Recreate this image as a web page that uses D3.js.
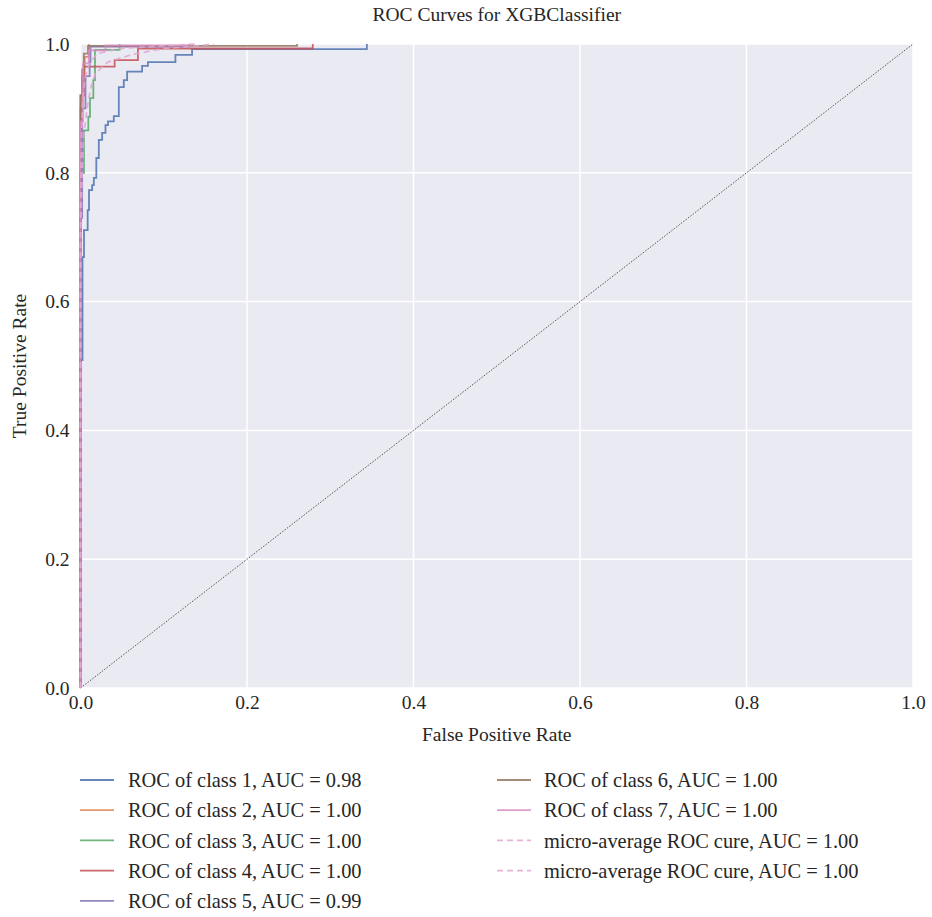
<!DOCTYPE html>
<html>
<head>
<meta charset="utf-8">
<script src="https://cdn.jsdelivr.net/npm/d3@7"></script>
<style>
  html, body { margin: 0; padding: 0; background: #ffffff; }
  svg { display: block; }
  text { font-family: "Liberation Serif", "DejaVu Serif", serif; fill: #262626; }
</style>
</head>
<body>
<svg id="chart" width="932" height="917"></svg>
<script>
// ---------------- DATA ----------------
const chartTitle = "ROC Curves for XGBClassifier";
const xLabel = "False Positive Rate";
const yLabel = "True Positive Rate";
const xTicks = [0.0, 0.2, 0.4, 0.6, 0.8, 1.0];
const yTicks = [0.0, 0.2, 0.4, 0.6, 0.8, 1.0];

const seriesNames = [
  "ROC of class 1, AUC = 0.98",
  "ROC of class 2, AUC = 1.00",
  "ROC of class 3, AUC = 1.00",
  "ROC of class 4, AUC = 1.00",
  "ROC of class 5, AUC = 0.99",
  "ROC of class 6, AUC = 1.00",
  "ROC of class 7, AUC = 1.00",
  "micro-average ROC cure, AUC = 1.00",
  "micro-average ROC cure, AUC = 1.00"
];

// [FPR, TPR] corner points (the part along TPR = 1 is hidden under the frame edge)
const class1 = [[0,0.023],[0,0.509],[0.0024,0.509],[0.0024,0.669],[0.0042,0.669],[0.0042,0.711],[0.0086,0.711],[0.0086,0.742],[0.0102,0.742],[0.0102,0.773],[0.014,0.773],[0.014,0.781],[0.016,0.781],[0.016,0.792],[0.019,0.792],[0.019,0.823],[0.022,0.823],[0.022,0.851],[0.026,0.851],[0.026,0.862],[0.030,0.862],[0.030,0.874],[0.033,0.874],[0.033,0.880],[0.040,0.880],[0.040,0.888],[0.046,0.888],[0.046,0.933],[0.052,0.933],[0.052,0.944],[0.056,0.944],[0.056,0.957],[0.074,0.957],[0.074,0.966],[0.081,0.966],[0.081,0.972],[0.114,0.972],[0.114,0.983],[0.134,0.983],[0.134,0.992],[0.344,0.992],[0.344,1]];
const class2 = [[0,0],[0,0.90],[0.002,0.90],[0.002,0.95],[0.005,0.95],[0.005,0.98],[0.010,0.98],[0.010,1]];
const class3 = [[0,0],[0,0.80],[0.0042,0.80],[0.0042,0.866],[0.0094,0.866],[0.0094,0.887],[0.0114,0.887],[0.0114,0.916],[0.0154,0.916],[0.0154,0.944],[0.0174,0.944],[0.0174,0.991],[0.047,0.991],[0.047,1]];
const class4 = [[0,0],[0,0.92],[0.004,0.92],[0.004,0.965],[0.041,0.965],[0.041,0.975],[0.069,0.975],[0.069,0.993],[0.279,0.993],[0.279,1]];
const class5 = [[0,0],[0,0.73],[0.002,0.73],[0.002,0.90],[0.006,0.90],[0.006,0.95],[0.011,0.95],[0.011,0.972],[0.012,0.972],[0.012,0.996],[0.13,0.996],[0.13,1]];
const class6 = [[0,0],[0,0.92],[0.002,0.92],[0.002,0.96],[0.004,0.96],[0.004,0.985],[0.009,0.985],[0.009,0.997],[0.26,0.997],[0.26,1]];
const class7 = [[0,0],[0,0.88],[0.003,0.88],[0.003,0.97],[0.010,0.97],[0.010,0.99],[0.03,0.99],[0.03,0.998],[0.13,0.998],[0.13,1]];
const micro1 = [[0,0],[0,0.70],[0.002,0.80],[0.004,0.86],[0.008,0.90],[0.012,0.93],[0.018,0.955],[0.033,0.972],[0.063,0.984],[0.10,0.993],[0.14,0.997],[0.16,1]];
const micro2 = [[0,0],[0,0.75],[0.001,0.85],[0.003,0.92],[0.006,0.95],[0.011,0.97],[0.02,0.985],[0.047,0.993],[0.10,0.997],[0.14,1]];
const diagonal = [[0,0],[1,1]];

const seriesData = [class1, class2, class3, class4, class5, class6, class7, micro1, micro2];
const seriesColors = ["#4C72B0", "#DD8452", "#55A868", "#C44E52", "#8172B3", "#937860", "#DA8BC3", "#E3A6D3", "#E3A6D3"];
const seriesDashed = [false, false, false, false, false, false, false, true, true];

// ---------------- LAYOUT ----------------
const svg = d3.select("#chart");
const x = d3.scaleLinear().domain([0, 1]).range([80.5, 913]);
const y = d3.scaleLinear().domain([0, 1]).range([688, 44]);

// background
svg.append("rect")
  .attr("x", x(0)).attr("y", y(1))
  .attr("width", x(1) - x(0)).attr("height", y(0) - y(1))
  .attr("fill", "#EAEAF2");

// grid
svg.append("g").selectAll("line").data(xTicks).join("line")
  .attr("x1", d => x(d)).attr("x2", d => x(d))
  .attr("y1", y(0)).attr("y2", y(1))
  .attr("stroke", "#ffffff").attr("stroke-width", 1.5);
svg.append("g").selectAll("line").data(yTicks).join("line")
  .attr("x1", x(0)).attr("x2", x(1))
  .attr("y1", d => y(d)).attr("y2", d => y(d))
  .attr("stroke", "#ffffff").attr("stroke-width", 1.5);

// axes (ticks hidden, labels only)
const xAxis = d3.axisBottom(x).tickValues(xTicks).tickFormat(d3.format(".1f")).tickSize(0).tickPadding(7);
const yAxis = d3.axisLeft(y).tickValues(yTicks).tickFormat(d3.format(".1f")).tickSize(0).tickPadding(11);
const gx = svg.append("g").attr("transform", `translate(0,${y(0)})`).call(xAxis);
const gy = svg.append("g").attr("transform", `translate(${x(0)},0)`).call(yAxis);
[gx, gy].forEach(g => {
  g.select(".domain").remove();
  g.selectAll("text").attr("font-family", "Liberation Serif, serif").attr("font-size", 19.5).attr("fill", "#262626");
});

// diagonal
const line = d3.line().x(d => x(d[0])).y(d => y(d[1]));
svg.append("path").datum(diagonal)
  .attr("d", line).attr("fill", "none")
  .attr("stroke", "#555").attr("stroke-width", 1)
  .attr("stroke-dasharray", "1.5,1.5");

// curves
seriesData.forEach((data, i) => {
  svg.append("path").datum(data)
    .attr("d", line).attr("fill", "none")
    .attr("stroke", seriesColors[i])
    .attr("stroke-width", 1.8)
    .attr("stroke-opacity", 0.85)
    .attr("stroke-dasharray", seriesDashed[i] ? "6,4" : null);
});

// titles
svg.append("text").attr("x", (x(0) + x(1)) / 2).attr("y", 21)
  .attr("text-anchor", "middle").attr("font-size", 19.5).text(chartTitle);
svg.append("text").attr("x", (x(0) + x(1)) / 2).attr("y", 741)
  .attr("text-anchor", "middle").attr("font-size", 19.5).text(xLabel);
svg.append("text").attr("transform", `translate(26,${(y(0) + y(1)) / 2}) rotate(-90)`)
  .attr("text-anchor", "middle").attr("font-size", 19.5).text(yLabel);

// legend
const legendCols = [{ x0: 80, tx: 128 }, { x0: 497, tx: 544 }];
const rowsPerCol = 5;
const legend = svg.append("g");
seriesNames.forEach((name, i) => {
  const col = legendCols[Math.floor(i / rowsPerCol)];
  const row = i % rowsPerCol;
  const cy = 780 + row * 30.2;
  legend.append("line")
    .attr("x1", col.x0).attr("x2", col.x0 + 34)
    .attr("y1", cy).attr("y2", cy)
    .attr("stroke", seriesColors[i]).attr("stroke-width", 1.8)
    .attr("stroke-opacity", 0.85)
    .attr("stroke-dasharray", seriesDashed[i] ? "6,4" : null);
  legend.append("text").attr("x", col.tx).attr("y", cy)
    .attr("dy", "0.35em").attr("font-size", 20.4).text(name);
});
</script>
</body>
</html>
